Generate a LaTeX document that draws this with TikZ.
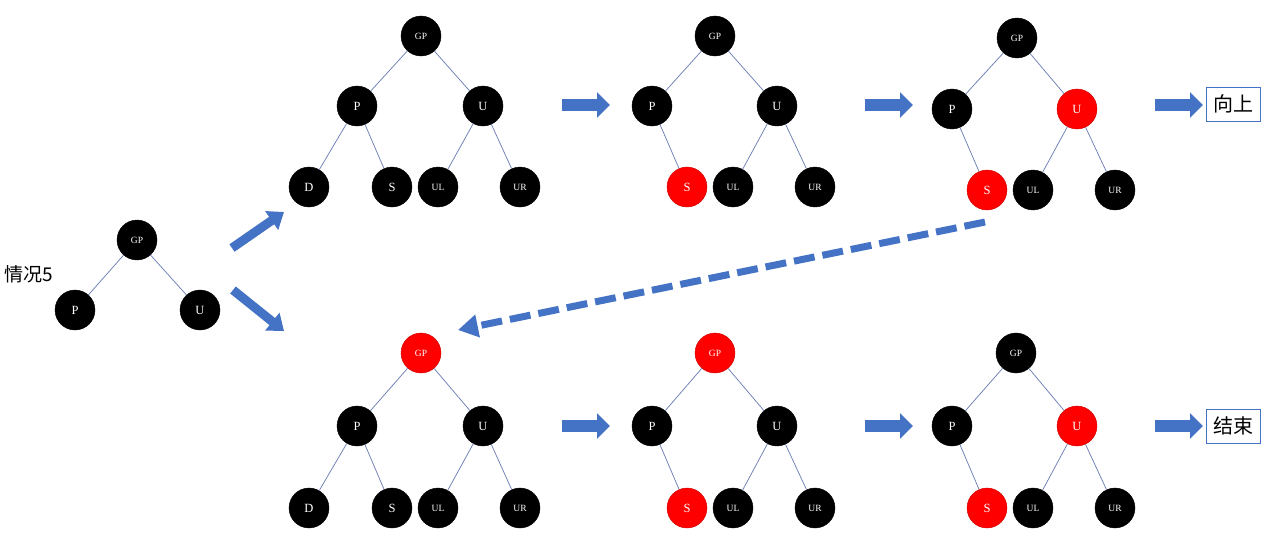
\documentclass[tikz,border=0pt]{standalone}
\usepackage{fontspec}
\setmainfont{Liberation Serif}
\newfontfamily\cjk{Noto Sans CJK SC}
\usepackage{tikz}
\usetikzlibrary{arrows.meta}
\definecolor{ArrowBlue}{HTML}{4472C4}
\definecolor{EdgeGray}{HTML}{6E7FB5}
\definecolor{NodeRed}{HTML}{FF0000}

\begin{document}
\begin{tikzpicture}[
  x=1pt,y=-1pt,
  rbnode/.style={circle,fill=black,draw=black,thin,text=white,minimum size=40pt,inner sep=0pt,font=\fontsize{12.5}{12.5}\selectfont},
  rdnode/.style={rbnode,fill=NodeRed,draw=NodeRed!80!black},
  smalltxt/.style={font=\fontsize{9.5}{9.5}\selectfont},
  edge/.style={draw=EdgeGray,line width=0.75pt},
  fat/.style={ArrowBlue,line width=12pt,-{Triangle[length=13pt,width=25pt]}},
  diag/.style={ArrowBlue,line width=9pt,-{Triangle[length=15pt,width=22pt]}},
  back/.style={ArrowBlue,line width=7pt,dash pattern=on 21pt off 8pt,-{Triangle[length=20pt,width=22pt]}},
  endbox/.style={draw=ArrowBlue,thin,fill=white,minimum width=54pt,minimum height=34pt,inner sep=0pt,font=\cjk\fontsize{20}{20}\selectfont}
]
  \useasboundingbox (0,0) rectangle (1269,542);

  % case 5, start tree
  \node[font=\cjk\fontsize{19}{19}\selectfont] (title) at (29,274) {情况5};
  \node[rbnode,smalltxt] (cgp) at (137,240) {GP};
  \node[rbnode] (cp) at (75,310) {P};
  \node[rbnode] (cu) at (200,310) {U};
  \draw[edge] (cgp)--(cp);
  \draw[edge] (cgp)--(cu);

  % upper row
  \node[rbnode,smalltxt] (u1gp) at (421,36) {GP};
  \node[rbnode] (u1p) at (357,106) {P};
  \node[rbnode] (u1u) at (483,106) {U};
  \node[rbnode] (u1d) at (309,187) {D};
  \node[rbnode] (u1s) at (392,187) {S};
  \node[rbnode,smalltxt] (u1ul) at (438,187) {UL};
  \node[rbnode,smalltxt] (u1ur) at (520,187) {UR};
  \draw[edge] (u1gp)--(u1p);
  \draw[edge] (u1gp)--(u1u);
  \draw[edge] (u1p)--(u1d);
  \draw[edge] (u1p)--(u1s);
  \draw[edge] (u1u)--(u1ul);
  \draw[edge] (u1u)--(u1ur);

  \node[rbnode,smalltxt] (u2gp) at (715,36) {GP};
  \node[rbnode] (u2p) at (652,106) {P};
  \node[rbnode] (u2u) at (777,106) {U};
  \node[rdnode] (u2s) at (687,187) {S};
  \node[rbnode,smalltxt] (u2ul) at (733,187) {UL};
  \node[rbnode,smalltxt] (u2ur) at (815,187) {UR};
  \draw[edge] (u2gp)--(u2p);
  \draw[edge] (u2gp)--(u2u);
  \draw[edge] (u2p)--(u2s);
  \draw[edge] (u2u)--(u2ul);
  \draw[edge] (u2u)--(u2ur);

  \node[rbnode,smalltxt] (u3gp) at (1017,38) {GP};
  \node[rbnode] (u3p) at (952,109) {P};
  \node[rdnode] (u3u) at (1077,109) {U};
  \node[rdnode] (u3s) at (987,190) {S};
  \node[rbnode,smalltxt] (u3ul) at (1033,190) {UL};
  \node[rbnode,smalltxt] (u3ur) at (1115,190) {UR};
  \draw[edge] (u3gp)--(u3p);
  \draw[edge] (u3gp)--(u3u);
  \draw[edge] (u3p)--(u3s);
  \draw[edge] (u3u)--(u3ul);
  \draw[edge] (u3u)--(u3ur);

  % lower row
  \node[rdnode,smalltxt] (l1gp) at (421,353) {GP};
  \node[rbnode] (l1p) at (357,426) {P};
  \node[rbnode] (l1u) at (483,426) {U};
  \node[rbnode] (l1d) at (309,508) {D};
  \node[rbnode] (l1s) at (392,508) {S};
  \node[rbnode,smalltxt] (l1ul) at (438,508) {UL};
  \node[rbnode,smalltxt] (l1ur) at (520,508) {UR};
  \draw[edge] (l1gp)--(l1p);
  \draw[edge] (l1gp)--(l1u);
  \draw[edge] (l1p)--(l1d);
  \draw[edge] (l1p)--(l1s);
  \draw[edge] (l1u)--(l1ul);
  \draw[edge] (l1u)--(l1ur);

  \node[rdnode,smalltxt] (l2gp) at (715,353) {GP};
  \node[rbnode] (l2p) at (652,426) {P};
  \node[rbnode] (l2u) at (777,426) {U};
  \node[rdnode] (l2s) at (687,508) {S};
  \node[rbnode,smalltxt] (l2ul) at (733,508) {UL};
  \node[rbnode,smalltxt] (l2ur) at (815,508) {UR};
  \draw[edge] (l2gp)--(l2p);
  \draw[edge] (l2gp)--(l2u);
  \draw[edge] (l2p)--(l2s);
  \draw[edge] (l2u)--(l2ul);
  \draw[edge] (l2u)--(l2ur);

  \node[rbnode,smalltxt] (l3gp) at (1016,353) {GP};
  \node[rbnode] (l3p) at (952,426) {P};
  \node[rdnode] (l3u) at (1077,426) {U};
  \node[rdnode] (l3s) at (987,508) {S};
  \node[rbnode,smalltxt] (l3ul) at (1033,508) {UL};
  \node[rbnode,smalltxt] (l3ur) at (1115,508) {UR};
  \draw[edge] (l3gp)--(l3p);
  \draw[edge] (l3gp)--(l3u);
  \draw[edge] (l3p)--(l3s);
  \draw[edge] (l3u)--(l3ul);
  \draw[edge] (l3u)--(l3ur);

  % result boxes
  \node[endbox] (up) at (1233,104) {向上};
  \node[endbox] (done) at (1233,426) {结束};

  % arrows
  \coordinate (ua1) at (562,105);
  \coordinate (ua2) at (865,105);
  \coordinate (ua3) at (1155,105);
  \coordinate (la1) at (562,426);
  \coordinate (la2) at (865,426);
  \coordinate (la3) at (1155,426);
  \draw[fat] (ua1)--++(48,0);
  \draw[fat] (ua2)--++(48,0);
  \draw[fat] (ua3)--++(48,0);
  \draw[fat] (la1)--++(48,0);
  \draw[fat] (la2)--++(48,0);
  \draw[fat] (la3)--++(48,0);
  \coordinate (dup0) at (232,248);
  \coordinate (dup1) at (284,212);
  \coordinate (ddn0) at (233,290);
  \coordinate (ddn1) at (284,331);
  \draw[diag] (dup0)--(dup1);
  \draw[diag] (ddn0)--(ddn1);
  \coordinate (bk0) at (985,222);
  \coordinate (bk1) at (458,330);
  \draw[back] (bk0)--(bk1);
\end{tikzpicture}
\end{document}
